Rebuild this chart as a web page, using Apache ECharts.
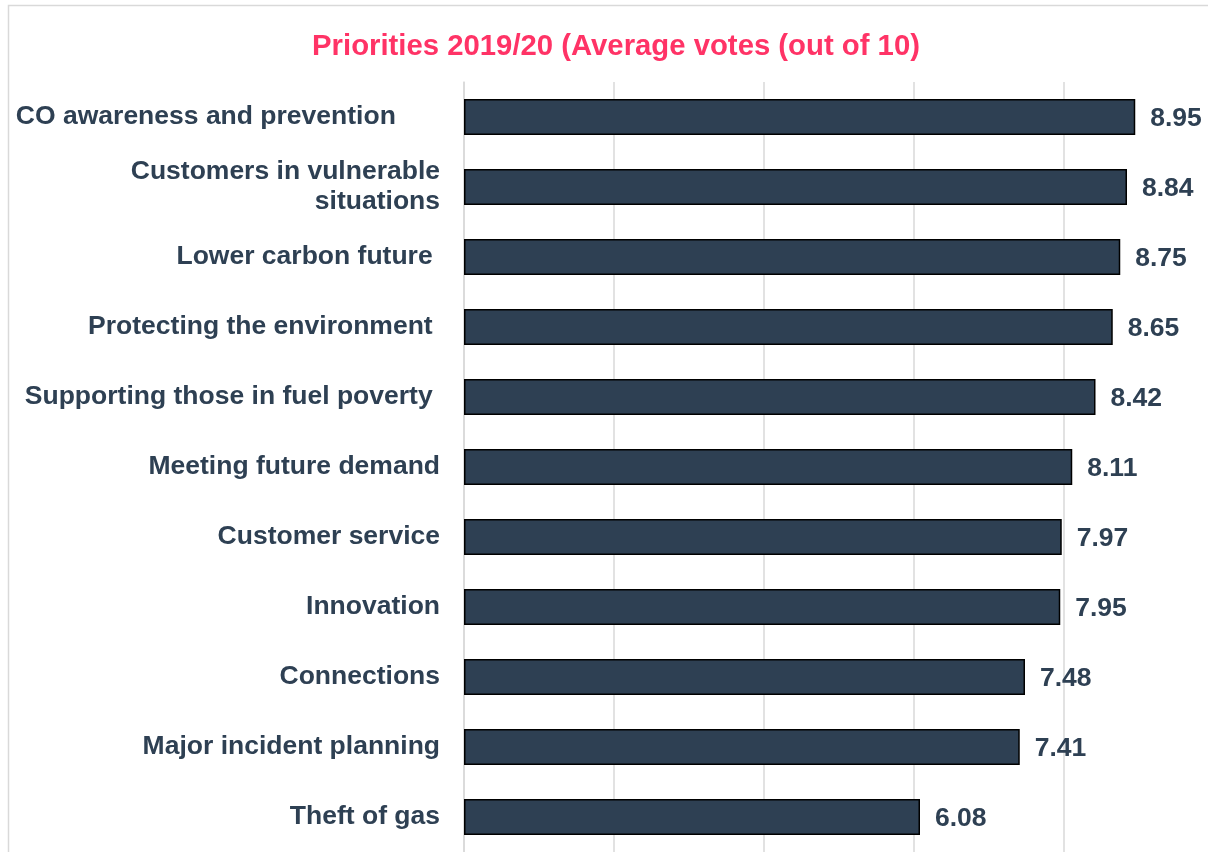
<!DOCTYPE html>
<html>
<head>
<meta charset="utf-8">
<script src="https://cdn.jsdelivr.net/npm/echarts@6/dist/echarts.min.js"></script>
<style>
  html, body { margin: 0; padding: 0; background: #ffffff; overflow: hidden; }
  /* canvas is a little wider than the window so the 10-mark gridline falls past the right edge */
  #chart { width: 1216px; height: 852px; }
</style>
</head>
<body>
<div id="chart"></div>
<script>
// Priority names, top to bottom (trailing spaces kept as in the source labels)
const categories = [
  'CO awareness and prevention      ',
  'Customers in vulnerable\nsituations',
  'Lower carbon future ',
  'Protecting the environment ',
  'Supporting those in fuel poverty ',
  'Meeting future demand',
  'Customer service',
  'Innovation',
  'Connections',
  'Major incident planning',
  'Theft of gas'
];

// Average votes out of 10
const averageVotes = [8.95, 8.84, 8.75, 8.65, 8.42, 8.11, 7.97, 7.95, 7.48, 7.41, 6.08];

const titleText = 'Priorities 2019/20 (Average votes (out of 10)';

const FONT = '"Liberation Sans", Arial, sans-serif';
const INK = '#2E4053';
const GRID = '#D9D9D9';

const chart = echarts.init(document.getElementById('chart'), null, { renderer: 'canvas' });

chart.setOption({
  backgroundColor: '#ffffff',
  animation: false,
  title: {
    text: titleText,
    left: 611,
    top: 27,
    textAlign: 'center',
    textStyle: {
      fontFamily: FONT,
      fontSize: 29.3,
      fontWeight: 'bold',
      color: '#FF3366'
    }
  },
  graphic: [{
    type: 'rect',
    silent: true,
    shape: { x: 8.5, y: 5.5, width: 1400, height: 1000 },
    style: { fill: 'none', stroke: GRID, lineWidth: 1.5 }
  }],
  grid: {
    left: 464,
    top: 82,
    width: 750,
    height: 778.5
  },
  xAxis: {
    type: 'value',
    min: 0,
    max: 10,
    interval: 2,
    axisLine: { show: false },
    axisTick: { show: false },
    axisLabel: { show: false },
    splitLine: { show: true, lineStyle: { color: GRID, width: 1.5 } }
  },
  yAxis: {
    type: 'category',
    inverse: true,
    data: categories,
    axisLine: { show: true, lineStyle: { color: GRID, width: 1.5 } },
    axisTick: { show: false },
    axisLabel: {
      margin: 24,
      fontFamily: FONT,
      fontSize: 26.5,
      fontWeight: 'bold',
      color: INK,
      lineHeight: 30,
      align: 'right',
      verticalAlign: 'middle',
      padding: [8, 0, 0, 0]
    }
  },
  series: [{
    type: 'bar',
    data: averageVotes,
    barWidth: 36,
    itemStyle: {
      color: INK,
      borderColor: '#000000',
      borderWidth: 1.5
    },
    label: {
      show: true,
      position: 'right',
      distance: 15,
      offset: [0, 2],
      fontFamily: FONT,
      fontSize: 26.5,
      fontWeight: 'bold',
      color: INK,
      formatter: p => p.value.toFixed(2)
    }
  }]
});
</script>
</body>
</html>
